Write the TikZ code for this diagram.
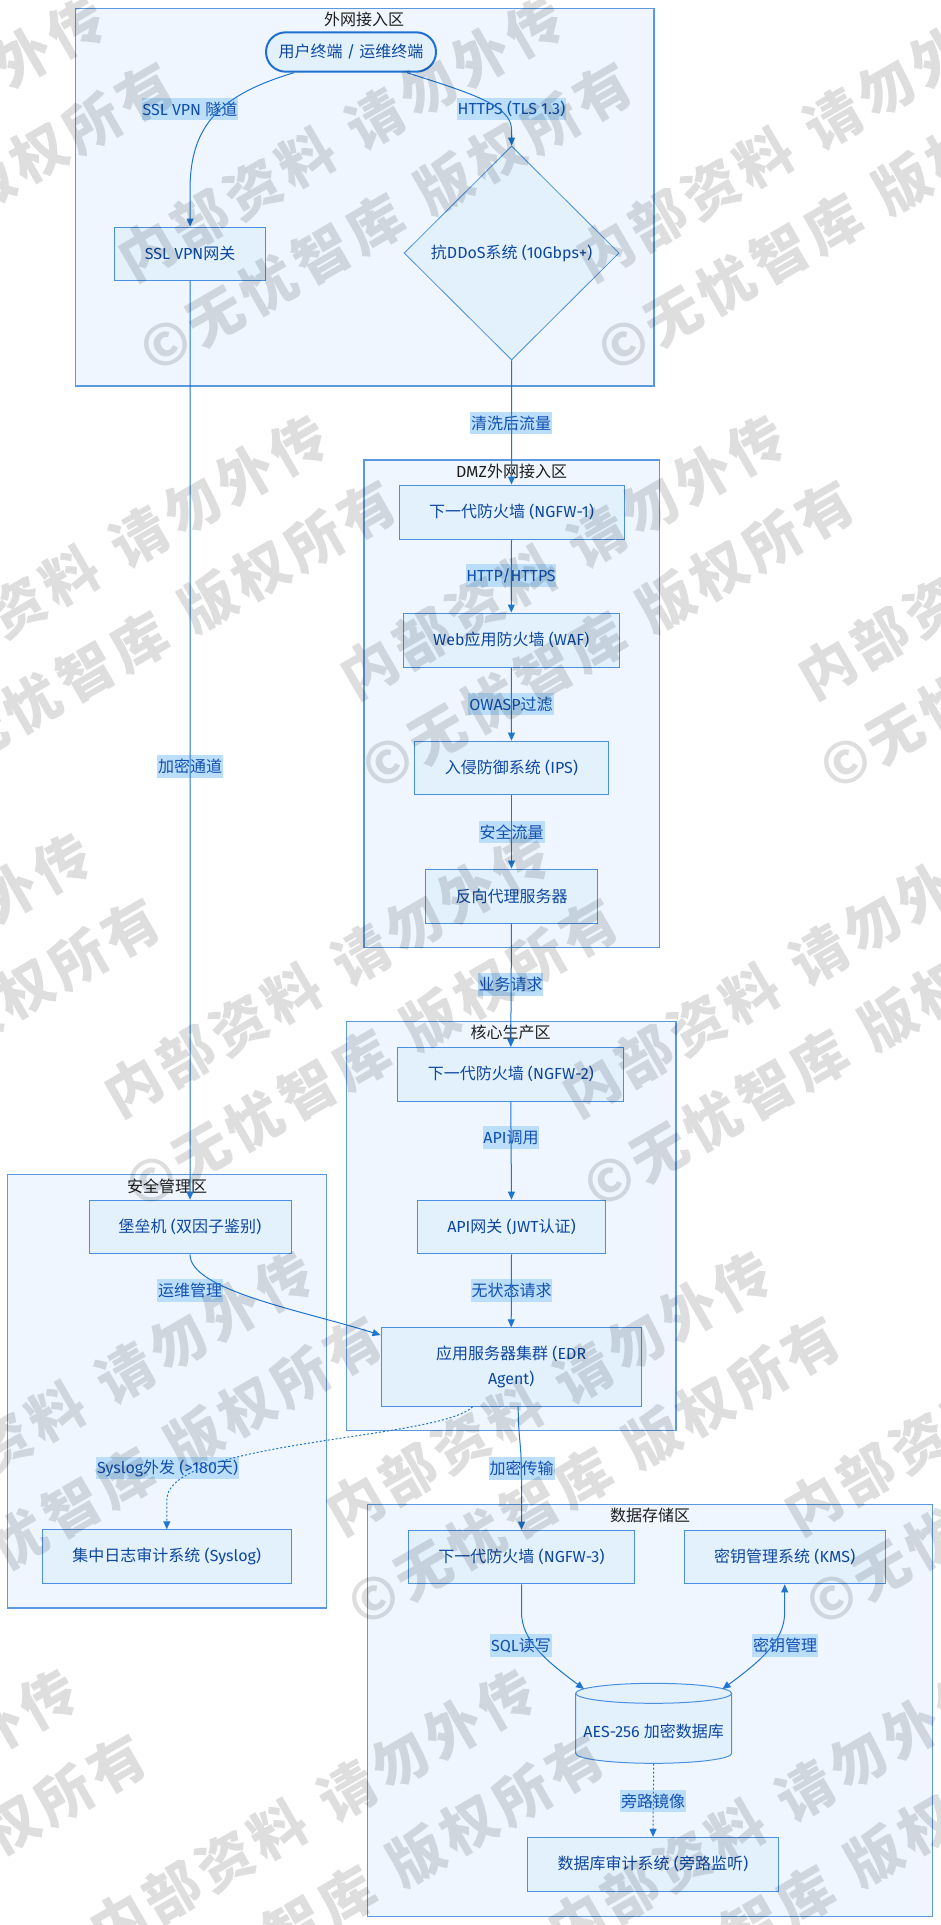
\documentclass[tikz,border=0pt]{standalone}
\usepackage{fontspec}
\setmainfont{Fira Sans}
\newfontfamily\cjk{Noto Sans CJK SC}
\usetikzlibrary{shapes.geometric,arrows.meta,calc}
\definecolor{zonefill}{RGB}{239,246,255}
\definecolor{zoneline}{RGB}{90,152,226}
\definecolor{nodefill}{RGB}{227,241,253}
\definecolor{nodeline}{RGB}{74,144,226}
\definecolor{nodetext}{RGB}{13,71,161}
\definecolor{termline}{RGB}{30,112,212}
\definecolor{edgecol}{RGB}{30,118,210}
\definecolor{lblfill}{RGB}{187,222,251}
\definecolor{lbltext}{RGB}{18,80,175}
\newcommand\zh[1]{{\cjk #1}}
\newcommand\wk{\kern4pt\relax}
\tikzset{
  zone/.style={draw=zoneline, fill=zonefill, line width=0.9pt},
  zonetitle/.style={text=black!88, font=\fontsize{12}{15}\selectfont, inner sep=0pt},
  box/.style={draw=nodeline, fill=nodefill, line width=0.75pt, text=nodetext, font=\fontsize{12}{18.75}\selectfont, inner sep=0pt, align=center},
  lbl/.style={fill=lblfill, text=lbltext, font=\fontsize{12}{15}\selectfont, inner xsep=0.6pt, inner ysep=0pt, minimum height=17pt},
  edge/.style={draw=edgecol, line width=0.75pt, -{Triangle[length=6pt,width=5.2pt]}},
  twoway/.style={draw=edgecol, line width=0.75pt, {Triangle[length=6pt,width=5.2pt]}-{Triangle[length=6pt,width=5.2pt]}},
  dots/.style={dash pattern=on 1.5pt off 1.5pt},
  wm/.style={rotate=30, text=black, text opacity=0.13, align=center, inner sep=0pt, font={\cjk\bfseries\fontsize{42}{68}\selectfont}},
}
\begin{document}
\begin{tikzpicture}[x=0.75pt,y=-0.75pt]
\fill[white] (0,0) rectangle (941,1925);
\useasboundingbox (0,0) rectangle (941,1925);

% zones
\draw[zone] (75.3,8.5) rectangle (654,386);
\draw[zone] (364,460) rectangle (659.3,947.5);
\draw[zone] (346.6,1021.5) rectangle (676,1430.8);
\draw[zone] (7.8,1174.8) rectangle (326.3,1608);
\draw[zone] (367.3,1504.5) rectangle (932.5,1916.5);

% zone titles
\node[zonetitle] (t1) at (364,19) {\zh{外网接入区}};
\node[zonetitle] (t2) at (511.5,471.7) {DMZ\zh{外网接入区}};
\node[zonetitle] (t3) at (510.5,1032.6) {\zh{核心生产区}};
\node[zonetitle] (t4) at (167,1186) {\zh{安全管理区}};
\node[zonetitle] (t5) at (650,1515.7) {\zh{数据存储区}};

% nodes
\node[box, rounded corners=14.7pt, draw=termline, line width=1.5pt, minimum width=127.5pt, minimum height=29.5pt] (term) at (351,52) {\zh{用户终端} / \zh{运维终端}};
\node[box, minimum width=113.1pt, minimum height=39.75pt] (vpn) at (190.1,253.5) {SSL VPN\zh{网关}};
\node[box, diamond, aspect=1, minimum width=161.25pt, minimum height=160.5pt, line width=0.6pt] (ddos) at (511.6,253) {\zh{抗}DDoS\zh{系统} (10Gbps+)};
\node[box, minimum width=168.75pt, minimum height=40.5pt] (ngfw1) at (511.5,512) {\zh{下一代防火墙} (NGFW-1)};
\node[box, minimum width=162pt, minimum height=40.5pt] (waf) at (511.3,640) {Web\zh{应用防火墙} (WAF)};
\node[box, minimum width=145.2pt, minimum height=40.3pt] (ips) at (511.5,768) {\zh{入侵防御系统} (IPS)};
\node[box, minimum width=128.7pt, minimum height=40.5pt] (proxy) at (511.5,896) {\zh{反向代理服务器}};
\node[box, minimum width=169.5pt, minimum height=40.2pt] (ngfw2) at (510.8,1074.3) {\zh{下一代防火墙} (NGFW-2)};
\node[box, minimum width=140.85pt, minimum height=40.3pt] (api) at (511.5,1227) {API\zh{网关} (JWT\zh{认证})};
\node[box, minimum width=195.3pt, minimum height=58.7pt] (app) at (511.2,1367) {\zh{应用服务器集群} (EDR\\Agent)};
\node[box, minimum width=151.5pt, minimum height=40.3pt] (bastion) at (190,1227) {\zh{堡垒机} (\zh{双因子鉴别})};
\node[box, minimum width=187.1pt, minimum height=40.2pt] (syslog) at (166.8,1556.6) {\zh{集中日志审计系统} (Syslog)};
\node[box, minimum width=169.5pt, minimum height=40.3pt] (ngfw3) at (521.5,1557) {\zh{下一代防火墙} (NGFW-3)};
\node[box, minimum width=151pt, minimum height=40.3pt] (kms) at (784.7,1557) {\zh{密钥管理系统} (KMS)};
\node[box, minimum width=187.65pt, minimum height=40.3pt] (audit) at (653,1864.2) {\zh{数据库审计系统} (\zh{旁路监听})};

% database cylinder
\path[draw=nodeline, fill=nodefill, line width=0.75pt] (575.7,1693.3) -- (575.7,1753.3)
  arc[start angle=180, end angle=0, x radius=78, y radius=10] -- (731.7,1693.3)
  arc[start angle=0, end angle=-180, x radius=78, y radius=10] -- cycle;
\draw[draw=nodeline, line width=0.75pt] (575.7,1693.3) arc[start angle=180, end angle=0, x radius=78, y radius=10];
\node[inner sep=0pt, minimum width=117pt, minimum height=47.4pt, text=nodetext, font=\fontsize{12}{15}\selectfont] (db) at (653.7,1731.7) {AES-256 \zh{加密数据库}};
\coordinate (dbL) at (584,1689);
\coordinate (dbR) at (722.5,1689);

% labels
\node[lbl] (lSSL) at (190,109) {SSL VPN \zh{隧道}};
\node[lbl] (lHTTPS) at (511.5,109) {HTTPS (TLS 1.3)};
\node[lbl] (lClean) at (511,423) {\zh{清洗后流量}};
\node[lbl] (lHttp) at (511,575.7) {HTTP/HTTPS};
\node[lbl] (lOwasp) at (511,704) {OWASP\zh{过滤}};
\node[lbl] (lSafe) at (511.7,832) {\zh{安全流量}};
\node[lbl] (lEnc) at (190,766.6) {\zh{加密通道}};
\node[lbl] (lBiz) at (510.5,984.6) {\zh{业务请求}};
\node[lbl] (lApi) at (511,1137.6) {API\zh{调用}};
\node[lbl] (lState) at (511.5,1290.5) {\zh{无状态请求}};
\node[lbl] (lOps) at (190,1290.5) {\zh{运维管理}};
\node[lbl] (lSys) at (167.6,1468) {Syslog\zh{外发} (>180\zh{天})};
\node[lbl] (lTrans) at (521.7,1468.5) {\zh{加密传输}};
\node[lbl] (lSql) at (521,1645.3) {SQL\zh{读写}};
\node[lbl] (lKey) at (785,1645.3) {\zh{密钥管理}};
\node[lbl] (lMirror) at (653,1801) {\zh{旁路镜像}};

% edges
\draw[edge] ($(term.south)+(-57,0)$) .. controls (220,95) and (190,125) .. (190,190) -- (vpn.north);
\draw[edge] ($(term.south)+(56,0)$) .. controls (470,93) and (511.6,105) .. (511.6,130) -- (ddos.north);
\draw[edge] (vpn.south) -- (bastion.north);
\draw[edge] (ddos.south) -- (ngfw1.north);
\draw[edge] (ngfw1.south) -- (waf.north);
\draw[edge] (waf.south) -- (ips.north);
\draw[edge] (ips.south) -- (proxy.north);
\draw[edge] (proxy.south) -- (ngfw2.north);
\draw[edge] (ngfw2.south) -- (api.north);
\draw[edge] (api.south) -- (app.north);
\draw[edge] (bastion.south) .. controls (190,1290) and (300,1310) .. ($(app.west)+(0,-32)$);
\draw[edge, dots] ($(app.south)+(-38.5,0)$) .. controls (440,1440) and (166.8,1440) .. (166.8,1500) -- (syslog.north);
\draw[edge] ($(app.south)+(7,0)$) .. controls (518.2,1440) and (521.5,1440) .. (521.5,1480) -- (ngfw3.north);
\draw[edge] (ngfw3.south) -- (521.5,1612) .. controls (521.5,1640) and (545,1660) .. (dbL);
\draw[twoway] (kms.south) -- (784.7,1612) .. controls (784.7,1640) and (762,1660) .. (dbR);
\draw[edge, dots] (db.south) -- (audit.north);

% watermark
\begin{scope}
\clip (0,0) rectangle (941,1925);
\foreach \j in {0,...,4}{
  \foreach \i in {-3,...,2}{
    \pgfmathsetmacro\cx{363.5+458*\i+222*\j}
    \pgfmathsetmacro\cy{178+418*\j}
    \node[wm] (wm\j\i) at (\cx,\cy) {内\wk 部\wk 资\wk 料\wk\ \wk 请\wk 勿\wk 外\wk 传\\©\wk 无\wk 忧\wk 智\wk 库\wk\ \wk 版\wk 权\wk 所\wk 有};
  }
}
\end{scope}
\end{tikzpicture}
\end{document}
